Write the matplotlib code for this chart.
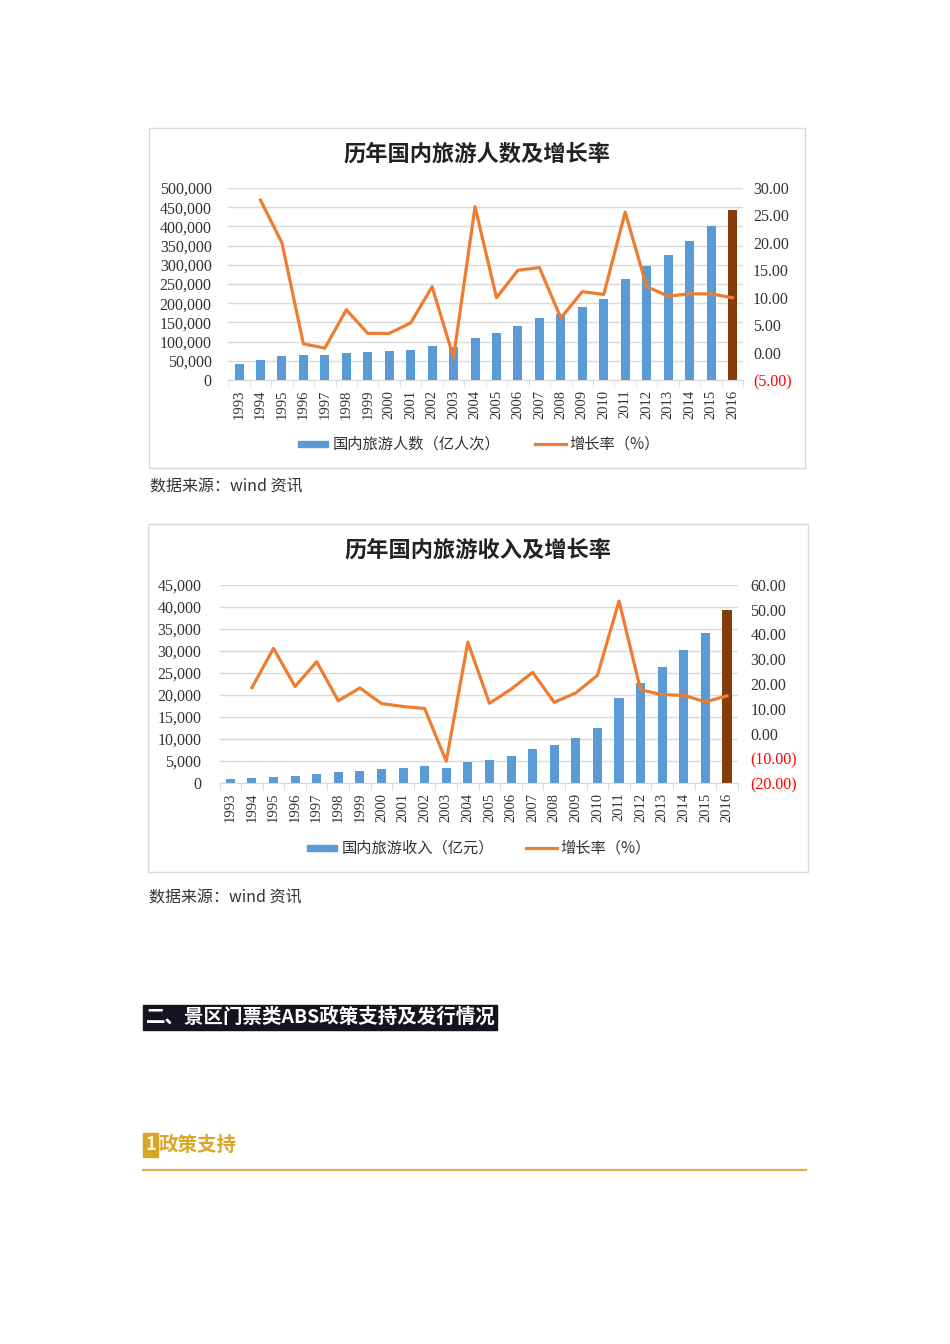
import matplotlib
matplotlib.use("Agg")
from matplotlib import pyplot as plt
from matplotlib.patches import Rectangle
from matplotlib.lines import Line2D
from matplotlib.ticker import FuncFormatter
import numpy as np

plt.rcParams['font.family'] = ['Noto Sans CJK SC', 'DejaVu Sans']

years = [str(y) for y in range(1993, 2017)]

# chart 1: domestic tourist trips and growth rate
trips = [41000, 52400, 62900, 63900, 64400, 69450, 71900, 74400, 78400, 87800,
         87000, 110200, 121200, 139400, 161000, 171200, 190200, 210300, 264100,
         295700, 326200, 361100, 400000, 444000]
trips_growth = [np.nan, 27.8, 20.0, 1.6, 0.8, 7.8, 3.5, 3.5, 5.4, 12.0, -0.9, 26.6,
                10.0, 15.0, 15.5, 6.3, 11.1, 10.6, 25.6, 12.0, 10.3, 10.7, 10.7, 10.0]

# chart 2: domestic tourism revenue and growth rate
revenue = [864, 1024, 1376, 1638, 2113, 2391, 2832, 3176, 3522, 3878, 3442, 4711,
           5286, 6230, 7771, 8749, 10184, 12580, 19305, 22706, 26276, 30312, 34195, 39390]
revenue_growth = [np.nan, 18.5, 34.4, 19.0, 29.0, 13.2, 18.4, 12.1, 10.9, 10.1, -11.2,
                  36.9, 12.2, 17.9, 24.7, 12.6, 16.4, 23.5, 53.5, 17.6, 15.7, 15.4, 12.8, 15.2]

W, H = 950, 1344
BLUE = '#5B9BD5'
ORANGE = '#ED7D31'
BROWN = '#843C0C'
GRID = '#D9D9D9'
SERIF = ['Liberation Serif', 'DejaVu Serif']

fig = plt.figure(figsize=(W / 100, H / 100), dpi=100)


def fx(x):
    return x / W


def fy(y):
    return 1 - y / H


def right_fmt(v, pos):
    if v < 0:
        return '({:.2f})'.format(-v)
    return '{:.2f}'.format(v)


def draw_chart(box, area, title, bars, growth, ymax, ystep, rlim, rstep,
               legend_y, leg1_x, leg1_text, leg2_x, lpad, rpad):
    # outer frame
    bx0, by0, bx1, by1 = box
    fig.patches.append(Rectangle((fx(bx0), fy(by1)), (bx1 - bx0) / W, (by1 - by0) / H,
                                 transform=fig.transFigure, fill=False,
                                 edgecolor=GRID, lw=1))
    fig.text(fx((bx0 + bx1) / 2), fy(by0 + 26), title, ha='center', va='center',
             fontsize=16, fontweight='bold', color='#222222')

    x0, y0, x1, y1 = area
    ax = fig.add_axes([fx(x0), fy(y1), (x1 - x0) / W, (y1 - y0) / H])
    xs = np.arange(len(years))
    colors = [BLUE] * (len(years) - 1) + [BROWN]
    ax.bar(xs, bars, width=0.42, color=colors, zorder=2)
    ax.set_xlim(-0.5, len(years) - 0.5)
    ax.set_ylim(0, ymax)
    ax.set_yticks(np.arange(0, ymax + 1, ystep))
    ax.yaxis.set_major_formatter(FuncFormatter(lambda v, p: '{:,}'.format(int(v))))
    ax.grid(axis='y', color=GRID, lw=1, zorder=0)
    ax.set_xticks(xs)
    ax.set_xticklabels(years, rotation=90, family=SERIF, fontsize=10.5, color='#333333')
    ax.set_xticks(np.arange(-0.5, len(years), 1), minor=True)
    ax.tick_params(axis='x', which='major', length=0, pad=7)
    ax.tick_params(axis='x', which='minor', length=5, color=GRID)
    ax.tick_params(axis='y', length=0, pad=lpad)
    for lab in ax.get_yticklabels():
        lab.set_family(SERIF)
        lab.set_fontsize(11.5)
        lab.set_color('#333333')
    for s in ['top', 'right', 'left']:
        ax.spines[s].set_visible(False)
    ax.spines['bottom'].set_color(GRID)

    ax2 = ax.twinx()
    ax2.plot(xs, growth, color=ORANGE, lw=2.3, zorder=3)
    ax2.set_ylim(*rlim)
    ax2.set_yticks(np.arange(rlim[0], rlim[1] + 0.1, rstep))
    ax2.yaxis.set_major_formatter(FuncFormatter(right_fmt))
    ax2.tick_params(axis='y', length=0, pad=rpad)
    for s in ax2.spines.values():
        s.set_visible(False)
    fig.canvas.draw()
    for lab, v in zip(ax2.get_yticklabels(), ax2.get_yticks()):
        lab.set_family(SERIF)
        lab.set_fontsize(11.5)
        lab.set_color('#FF0000' if v < 0 else '#333333')

    # legend
    fig.patches.append(Rectangle((fx(leg1_x), fy(legend_y + 3)), 30 / W, 6 / H,
                                 transform=fig.transFigure, color=BLUE))
    fig.text(fx(leg1_x + 35), fy(legend_y), leg1_text, ha='left', va='center',
             fontsize=11, color='#333333')
    fig.lines.append(Line2D([fx(leg2_x), fx(leg2_x + 31)], [fy(legend_y), fy(legend_y)],
                            transform=fig.transFigure, color=ORANGE, lw=2.3))
    fig.text(fx(leg2_x + 34), fy(legend_y), '增长率（%）', ha='left', va='center',
             fontsize=11, color='#333333')


draw_chart((149, 128, 805, 468), (228.3, 188, 743.2, 380), '历年国内旅游人数及增长率',
           trips, trips_growth, 500000, 50000, (-5, 30), 5,
           444, 298, '国内旅游人数（亿人次）', 535, 12, 7)
fig.text(fx(150), fy(487), '数据来源：wind 资讯', ha='left', va='center',
         fontsize=11.5, color='#333333')

draw_chart((148, 524, 808, 872), (219.5, 585, 737.8, 783), '历年国内旅游收入及增长率',
           revenue, revenue_growth, 45000, 5000, (-20, 60), 10,
           848, 307, '国内旅游收入（亿元）', 526, 13, 9)
fig.text(fx(149), fy(898), '数据来源：wind 资讯', ha='left', va='center',
         fontsize=11.5, color='#333333')

# section heading
fig.patches.append(Rectangle((fx(143), fy(1030)), 354 / W, 25 / H,
                             transform=fig.transFigure, color='#141420'))
fig.text(fx(146), fy(1017.5), '二、景区门票类ABS政策支持及发行情况', ha='left', va='center',
         fontsize=14, fontweight='bold', color='white')

GOLD = '#D9A62A'
fig.patches.append(Rectangle((fx(143), fy(1157)), 15 / W, 24 / H,
                             transform=fig.transFigure, color=GOLD))
fig.text(fx(150.5), fy(1145), '1', ha='center', va='center', fontsize=13,
         fontweight='bold', color='#FFF4D0')
fig.text(fx(159), fy(1145), '政策支持', ha='left', va='center', fontsize=14,
         fontweight='bold', color=GOLD)
fig.lines.append(Line2D([fx(143), fx(806)], [fy(1170), fy(1170)],
                        transform=fig.transFigure, color='#DDB54A', lw=1.6))

fig.savefig('out.png', dpi=100)
